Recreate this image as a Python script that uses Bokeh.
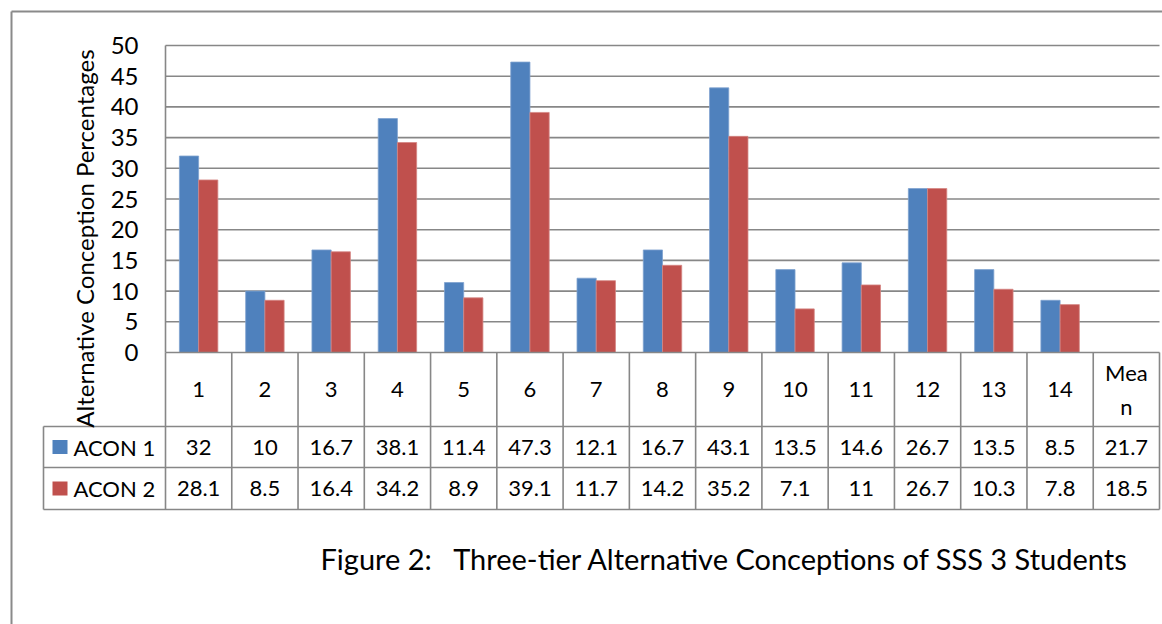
import numpy as np
from bokeh.plotting import figure
from bokeh.models import Range1d
from bokeh.core.properties import value
from bokeh.embed import file_html
from bokeh.resources import INLINE

# ---------------- data ----------------
categories = ["1", "2", "3", "4", "5", "6", "7", "8", "9", "10", "11", "12", "13", "14", "Mean"]
acon1 = [32, 10, 16.7, 38.1, 11.4, 47.3, 12.1, 16.7, 43.1, 13.5, 14.6, 26.7, 13.5, 8.5, 21.7]
acon2 = [28.1, 8.5, 16.4, 34.2, 8.9, 39.1, 11.7, 14.2, 35.2, 7.1, 11, 26.7, 10.3, 7.8, 18.5]
series_names = ["ACON 1", "ACON 2"]
y_ticks = [0, 5, 10, 15, 20, 25, 30, 35, 40, 45, 50]
y_title = "Alternative Conception Percentages"
caption = "Figure 2:\u00a0\u00a0 Three-tier Alternative Conceptions of SSS 3 Students"

# ---------------- layout (pixels) ----------------
W, H = 1162, 624
PL, PR = 165, 1159          # plot area left / right
PT, PB = 45, 352            # y = 50 / y = 0
ROW_H = 426                 # header row bottom
ROW_1 = 467                 # first series row bottom
ROW_2 = 509                 # second series row bottom
TABLE_L = 43

BLUE = "#4F81BD"
RED = "#C0504D"
GRID = "#878787"
FONT = value("Lato")

n = len(categories)
unit = (PR - PL) / n
x_start = 0.5 - PL / unit
x_end = n + 0.5 + (W - PR) / unit
ymax = max(y_ticks)
ppu = (PB - PT) / ymax
y_end = ymax + PT / ppu
y_start = -(H - PB) / ppu

p = figure(width=W, height=H, x_range=Range1d(x_start, x_end), y_range=Range1d(y_start, y_end),
           output_backend="svg", toolbar_location=None, x_axis_type=None, y_axis_type=None,
           min_border_left=0, min_border_right=0, min_border_top=0, min_border_bottom=0)
p.outline_line_color = None
p.grid.visible = False
p.background_fill_color = "white"
p.border_fill_color = "white"
p.extra_x_ranges = {"px": Range1d(0, W)}
p.extra_y_ranges = {"px": Range1d(H, 0)}

# outer chart border
p.segment(x0=[11, 11], y0=[11, 11], x1=[11, W + 5], y1=[H + 5, 11], line_color="#8a8a8a",
          line_width=2, x_range_name="px", y_range_name="px")

# gridlines
grid_y = [t for t in y_ticks if t > 0]
p.segment(x0=0.5, x1=n + 0.5, y0=grid_y, y1=grid_y, line_color=GRID, line_width=1.6)

# bars (Mean column has no bars in the reference)
xs = np.arange(1, n)
bw = 0.29
p.vbar(x=xs - bw / 2, width=bw, top=acon1[:n - 1], bottom=0, fill_color=BLUE, line_color="#7fa2cf", line_width=0.8)
p.vbar(x=xs + bw / 2, width=bw, top=acon2[:n - 1], bottom=0, fill_color=RED, line_color="#d48583", line_width=0.8)

# table lines
p.segment(x0=0.5, x1=n + 0.5, y0=0, y1=0, line_color=GRID, line_width=1.6)
hx0 = [TABLE_L] * 3
hy = [ROW_H, ROW_1, ROW_2]
p.segment(x0=hx0, x1=[PR] * 3, y0=hy, y1=hy, line_color=GRID, line_width=1.6,
          x_range_name="px", y_range_name="px")
p.segment(x0=[TABLE_L], x1=[TABLE_L], y0=[ROW_H], y1=[ROW_2], line_color=GRID, line_width=1.6,
          x_range_name="px", y_range_name="px")
bounds = np.arange(0, n + 1) + 0.5
p.segment(x0=bounds, x1=bounds, y0=[PB] * (n + 1), y1=[ROW_2] * (n + 1), line_color=GRID,
          line_width=1.6, y_range_name="px")
p.segment(x0=[0.5], x1=[0.5], y0=[PT], y1=[PB], line_color=GRID, line_width=1.6, y_range_name="px")

# y tick labels
p.text(x=[138] * len(y_ticks), y=y_ticks, text=[str(t) for t in y_ticks], x_range_name="px",
       text_align="right", text_baseline="middle", text_font=FONT, text_font_size="24px",
       text_color="black")

# y title
p.text(x=[84], y=[238], text=[y_title], angle=np.pi / 2, x_range_name="px", y_range_name="px",
       text_align="center", text_baseline="middle", text_font=FONT, text_font_size="24px",
       text_color="black")

# category header
cat_labels = [c if len(c) < 4 else c[:3] + "\n" + c[3:] for c in categories]
p.text(x=list(range(1, n + 1)), y=[(PB + ROW_H) / 2] * n, text=cat_labels, y_range_name="px",
       text_align="center", text_baseline="middle", text_font=FONT, text_font_size="22px",
       text_line_height=1.25, text_color="black")

# values rows
def fmt(v):
    return f"{v:g}"

for vals, y0, y1, col, name in [(acon1, ROW_H, ROW_1, BLUE, series_names[0]),
                                (acon2, ROW_1, ROW_2, RED, series_names[1])]:
    ym = (y0 + y1) / 2
    p.text(x=list(range(1, n + 1)), y=[ym] * n, text=[fmt(v) for v in vals], y_range_name="px",
           text_align="center", text_baseline="middle", text_font=FONT, text_font_size="22px",
           text_color="black")
    p.quad(left=[52], right=[67], top=[ym - 7], bottom=[ym + 7], fill_color=col, line_color=None,
           x_range_name="px", y_range_name="px")
    p.text(x=[73], y=[ym], text=[name], x_range_name="px", y_range_name="px",
           text_align="left", text_baseline="middle", text_font=FONT, text_font_size="22px",
           text_color="black")

# caption
p.text(x=[320], y=[558], text=[caption], x_range_name="px", y_range_name="px",
       text_align="left", text_baseline="alphabetic", text_font=FONT, text_font_size="29px",
       text_color="black")

open("out.html", "w").write(file_html(p, INLINE))
